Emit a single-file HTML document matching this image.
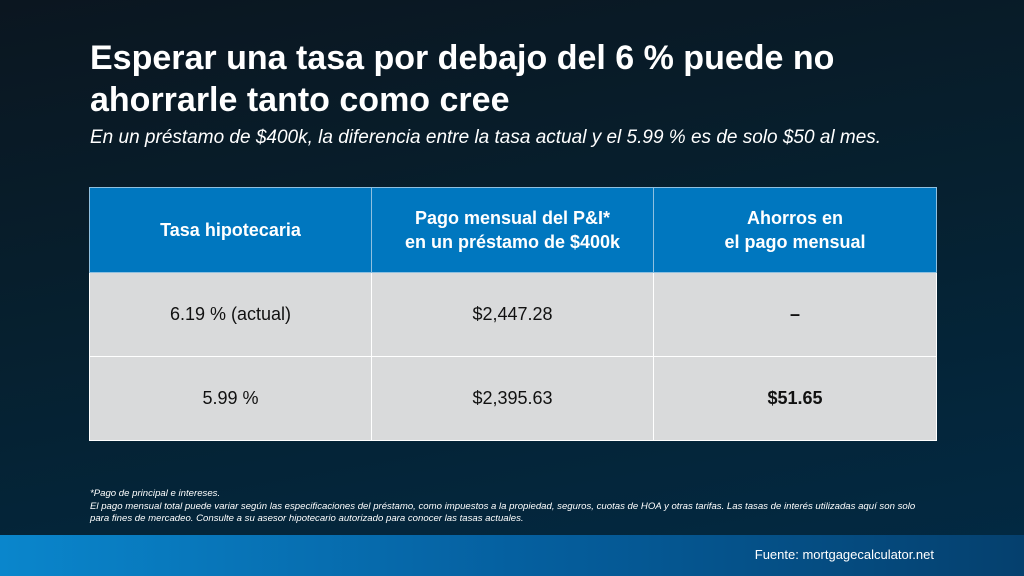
<!DOCTYPE html>
<html><head><meta charset="utf-8"><style>
html,body{margin:0;padding:0}
body{width:1024px;height:576px;position:relative;overflow:hidden;font-family:"Liberation Sans",sans-serif;
background:linear-gradient(170deg,#0b1620 0%,#06202f 45%,#022a44 100%);}
.t{position:absolute;left:90px;top:37px;color:#fff;font-size:34px;font-weight:bold;line-height:42px;}
.s{position:absolute;left:90px;top:127px;color:#fff;font-size:19px;font-style:italic;}
table{position:absolute;left:89px;top:187px;width:847px;border-collapse:collapse;table-layout:fixed}
td{border:1px solid #fff;text-align:center;font-size:18px;color:#111;background:#d9dadb;height:83px;padding:0}
th{border:1px solid #8fc0e0;background:#0077bf;color:#fff;font-size:18px;font-weight:bold;height:84px;line-height:24px;padding:0}
.n{position:absolute;left:90px;top:488px;color:#fff;font-size:9.6px;font-style:italic;line-height:12.5px;width:880px}
.f{position:absolute;left:0;top:535px;width:1024px;height:41px;background:linear-gradient(90deg,#0a86cc 0%,#0560a0 50%,#05406e 100%)}
.f span{position:absolute;right:90px;top:12px;color:#fff;font-size:13px}
</style></head><body>
<div class="t">Esperar una tasa por debajo del 6 % puede no<br>ahorrarle tanto como cree</div>
<div class="s">En un préstamo de $400k, la diferencia entre la tasa actual y el 5.99 % es de solo $50 al mes.</div>
<table>
<colgroup><col style="width:282px"><col style="width:282px"><col style="width:283px"></colgroup>
<tr><th>Tasa hipotecaria</th><th>Pago mensual del P&amp;I*<br>en un préstamo de $400k</th><th>Ahorros en<br>el pago mensual</th></tr>
<tr><td>6.19 % (actual)</td><td>$2,447.28</td><td><b>–</b></td></tr>
<tr><td>5.99 %</td><td>$2,395.63</td><td><b>$51.65</b></td></tr>
</table>
<div class="n">*Pago de principal e intereses.<br>El pago mensual total puede variar según las especificaciones del préstamo, como impuestos a la propiedad, seguros, cuotas de HOA y otras tarifas. Las tasas de interés utilizadas aquí son solo<br>para fines de mercadeo. Consulte a su asesor hipotecario autorizado para conocer las tasas actuales.</div>
<div class="f"><span>Fuente: mortgagecalculator.net</span></div>
</body></html>
